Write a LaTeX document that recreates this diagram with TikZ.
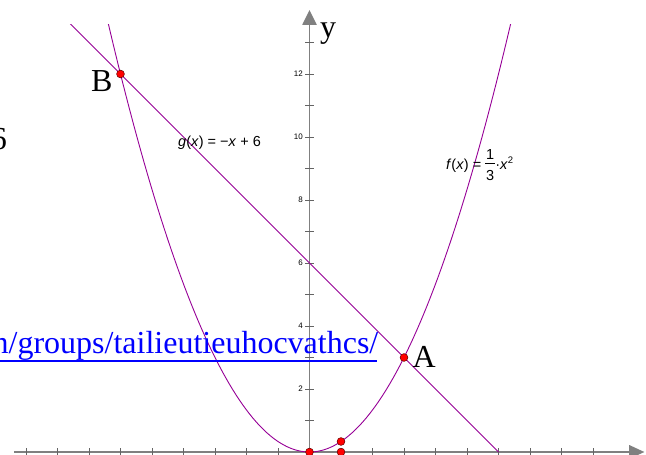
\documentclass[tikz,border=0pt]{standalone}
\usepackage{fontspec}
\setmainfont{Liberation Serif}
\newfontfamily\lsans{Liberation Sans}
\usetikzlibrary{calc}
\definecolor{curvecol}{RGB}{150,0,150}
\definecolor{axiscol}{RGB}{128,128,128}
\definecolor{tickcol}{RGB}{100,100,100}
\definecolor{ptedge}{RGB}{90,0,0}
\definecolor{linkblue}{RGB}{0,0,255}
\newcommand{\stackfrac}[2]{\makebox[0pt][l]{\raisebox{10pt}{\makebox[9.5pt]{#1}}}\makebox[0pt][l]{\raisebox{-11pt}{\makebox[9.5pt]{#2}}}\rule[5.5pt]{9.5pt}{0.7pt}}
\begin{document}
\begin{tikzpicture}[x=1pt,y=-1pt,
  axisline/.style={draw=axiscol, line width=1.3pt},
  axishead/.style={fill=axiscol, draw=none},
  tickmark/.style={draw=tickcol, line width=0.8pt},
  curveline/.style={draw=curvecol, line width=0.9pt},
  ptdot/.style={circle, fill=red, draw=ptedge, line width=0.5pt, inner sep=0pt, minimum size=7.8pt},
  bigserif/.style={font=\fontsize{32}{36}\selectfont, inner sep=0pt},
  smallnum/.style={font=\lsans\fontsize{8}{9}\selectfont, inner sep=0pt},
  fnlabel/.style={font=\lsans\fontsize{14.5}{16}\selectfont, inner sep=0pt},
  linkul/.style={draw=linkblue, line width=1.8pt}]
\useasboundingbox (0,0) rectangle (646,455);
\begin{scope}[shift={(309.5,452)}, x=31.5pt, y=31.5pt]
  % axes
  \coordinate (xstart) at (-9.38,0);
  \coordinate (xbase) at (10.15,0);
  \coordinate (xtip) at (10.63,0);
  \coordinate (ystart) at (0,-0.2);
  \coordinate (ybase) at (0,13.56);
  \coordinate (ytip) at (0,14.03);
  \draw[axisline] (xstart) -- (xbase);
  \draw[axisline] (ystart) -- (ybase);
  \fill[axishead] (xtip) -- ($(xbase)+(0,7pt)$) -- ($(xbase)+(0,-7pt)$) -- cycle;
  \fill[axishead] (ytip) -- ($(ybase)+(-7.3pt,0)$) -- ($(ybase)+(7.3pt,0)$) -- cycle;
  \foreach \i in {-9,...,-1,1,2,...,9}
    \draw[tickmark] (\i,0) ++(0,-4.3pt) -- ++(0,8.6pt);
  \foreach \j in {1,...,13}
    \draw[tickmark] (0,\j) ++(-4.3pt,0) -- ++(8.6pt,0);
  \foreach \j in {2,4,...,12}
    \node[smallnum, anchor=east] at ($(0,\j)+(-6.5pt,0)$) {\j};
  % curves
  \begin{scope}
    \clip (-10,-0.3) rectangle (11,13.56);
    \draw[curveline] plot[domain=-6.45:6.45, samples=120] (\x,{\x*\x/3});
    \coordinate (gstart) at (-7.8,13.8);
    \coordinate (gend) at (6,0);
    \draw[curveline] (gstart) -- (gend);
  \end{scope}
  % points
  \coordinate (B) at (-6,12);
  \coordinate (A) at (3,3);
  \coordinate (O) at (0,0);
  \coordinate (P) at (1,1/3);
  \coordinate (Q) at (1,0);
  \node[ptdot] (ptB) at (B) {};
  \node[ptdot] (ptA) at (A) {};
  \node[ptdot] (ptO) at (O) {};
  \node[ptdot] (ptP) at (P) {};
  \node[ptdot] (ptQ) at (Q) {};
\end{scope}
% labels
\node[bigserif, anchor=base west] (ylab) at (320,37) {y};
\node[bigserif, anchor=base west] (Blab) at (91,91.5) {B};
\node[bigserif, anchor=base west] (Alab) at (412.5,367) {A};
\node[bigserif, anchor=base east] (six) at (7,149) {6};
\node[bigserif, anchor=base east, text=linkblue] (link) at (378.5,353) {n/groups/tailieutieuhocvathcs/};
\draw[linkul] ($(link.base west)+(0,8)$) -- ($(link.base east)+(-2,8)$);
\node[fnlabel, anchor=base west] (glab) at (178,146.5) {\textit{g}(\textit{x}) = −\textit{x} + 6};
\node[fnlabel, anchor=base west] (flab) at (446,169) {\textit{f}(\textit{x}) = \stackfrac{1}{3}\kern0.5pt·\textit{x}\raisebox{6pt}{\fontsize{9.5}{10}\selectfont 2}};
\end{tikzpicture}
\end{document}
